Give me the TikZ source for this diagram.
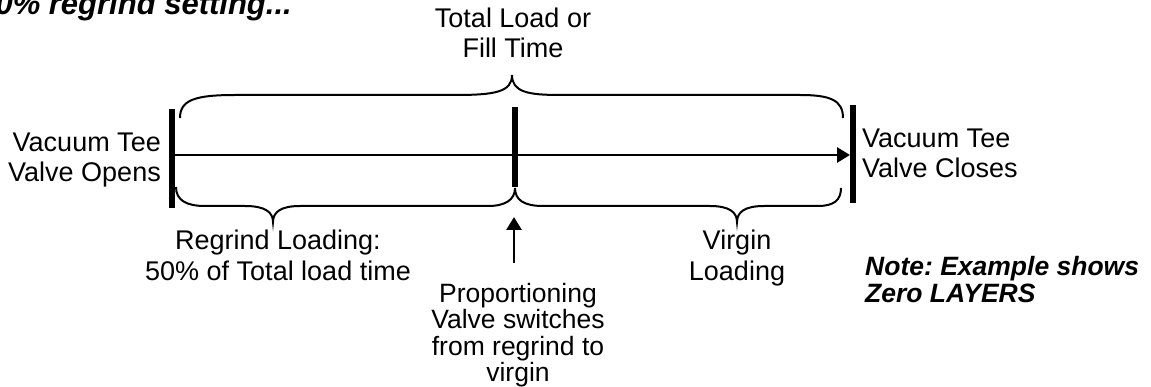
\documentclass[tikz,border=0pt]{standalone}
\usepackage{fontspec}
\setmainfont{Liberation Sans}
\usetikzlibrary{arrows.meta}
\frenchspacing
\begin{document}
\begin{tikzpicture}[x=1pt,y=-1pt,
  lbl/.style={font=\fontsize{27}{30.5}\selectfont, align=center, inner sep=0pt},
  note/.style={font=\fontsize{26.5}{28}\selectfont\bfseries\itshape, align=left, inner sep=0pt},
  ttl/.style={font=\fontsize{31}{34}\selectfont\bfseries\itshape, inner sep=0pt},
  bar/.style={line width=6pt},
  brc/.style={line width=2pt},
  axis/.style={line width=2.8pt, -{Triangle[length=13pt,width=15pt]}},
]
\useasboundingbox (0,0) rectangle (1151,387);

% title (cut at the left edge)
\node[ttl, anchor=base east] (title) at (292,15) {50\% regrind setting...};

% bars
\coordinate (Lt) at (172,109); \coordinate (Lb) at (172,208);
\coordinate (Mt) at (515,107); \coordinate (Mb) at (515,187);
\coordinate (Rt) at (853,105); \coordinate (Rb) at (853,203);
\draw[bar] (Lt) -- (Lb);
\draw[bar] (Mt) -- (Mb);
\draw[bar] (Rt) -- (Rb);

% time axis
\coordinate (L) at (172,155);
\coordinate (R) at (850,155);
\draw[axis] (L) -- (R);

% top brace
\draw[brc] (180,118) .. controls (180,100) and (195,95) .. (235,95) -- (455,95)
  .. controls (495,95) and (512,92) .. (512,75)
  .. controls (512,92) and (528,95) .. (560,95) -- (800,95)
  .. controls (830,95) and (843,100) .. (843,118);

% lower left brace
\draw[brc] (176,187) .. controls (176,200) and (186,206) .. (205,206) -- (245,206)
  .. controls (265,206) and (273,212) .. (273,222)
  .. controls (273,212) and (281,206) .. (300,206) -- (488,206)
  .. controls (505,206) and (515,200) .. (515,188);

% lower right brace
\draw[brc] (515,188) .. controls (515,200) and (524,206) .. (543,206) -- (710,206)
  .. controls (729,206) and (737,212) .. (737,222)
  .. controls (737,212) and (745,206) .. (764,206) -- (818,206)
  .. controls (834,206) and (841,200) .. (841,188);

% labels (anchor=base is the baseline of the last line)
\node[lbl, anchor=base] (total) at (513,58) {Total Load or\\Fill Time};
\node[lbl, align=right, anchor=base east] (open) at (161,182) {Vacuum Tee\\Valve Opens};
\node[lbl, align=left, anchor=base west] (close) at (862,178) {Vacuum Tee\\Valve Closes};
\node[lbl, anchor=base] (regrind) at (278,280) {Regrind Loading:\\50\% of Total load time};
\node[lbl, anchor=base] (virgin) at (737,280) {Virgin\\Loading};
\node[lbl, font=\fontsize{26.5}{26.5}\selectfont, anchor=base] (prop) at (518,381.5)
  {Proportioning\\Valve switches\\from regrind to\\virgin};
\node[note, anchor=base west] (note) at (865,303) {Note: Example shows\\Zero LAYERS};

% switch arrow
\coordinate (sw0) at (514,263);
\coordinate (sw1) at (514,217);
\draw[axis] (sw0) -- (sw1);
\end{tikzpicture}
\end{document}
